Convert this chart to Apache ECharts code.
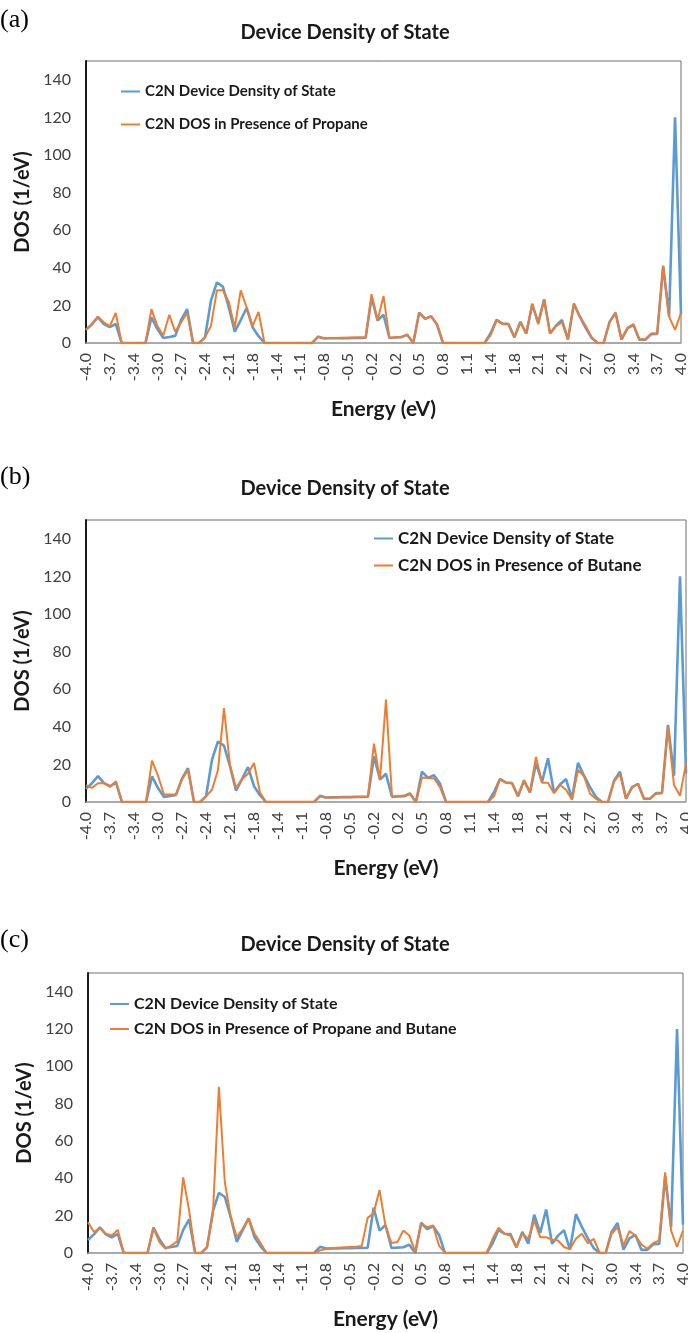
<!DOCTYPE html>
<html>
<head>
<meta charset="utf-8">
<script src="https://cdn.jsdelivr.net/npm/echarts@6/dist/echarts.min.js"></script>
<style>
  html, body { margin: 0; padding: 0; background: #fff; }
  #chart { width: 688px; height: 1333px; }
</style>
</head>
<body>
<div id="chart"></div>
<script>
// energy grid (eV), one point every 0.08 eV
const energy = [
  -4.00, -3.92, -3.84, -3.76, -3.68, -3.60, -3.52, -3.44, -3.36, -3.28,
  -3.20, -3.12, -3.04, -2.96, -2.88, -2.80, -2.72, -2.64, -2.56, -2.48,
  -2.40, -2.32, -2.24, -2.16, -2.08, -2.00, -1.92, -1.84, -1.76, -1.68,
  -1.60, -1.52, -1.44, -1.36, -1.28, -1.20, -1.12, -1.04, -0.96, -0.88,
  -0.80, -0.72, -0.64, -0.56, -0.48, -0.40, -0.32, -0.24, -0.16, -0.08,
  0.00, 0.08, 0.16, 0.24, 0.32, 0.40, 0.48, 0.56, 0.64, 0.72,
  0.80, 0.88, 0.96, 1.04, 1.12, 1.20, 1.28, 1.36, 1.44, 1.52,
  1.60, 1.68, 1.76, 1.84, 1.92, 2.00, 2.08, 2.16, 2.24, 2.32,
  2.40, 2.48, 2.56, 2.64, 2.72, 2.80, 2.88, 2.96, 3.04, 3.12,
  3.20, 3.28, 3.36, 3.44, 3.52, 3.60, 3.68, 3.76, 3.84, 3.92,
  4.00
];

// C2N device density of state (same curve in all three panels)
const pristine = [
  7, 10, 13.8, 10, 8.4, 10.2, 0, 0, 0, 0,
  0, 13.6, 7.4, 2.7, 3.2, 3.8, 12.4, 18, 0, 0,
  3, 22.5, 32.2, 30, 19, 6, 12.2, 18.6, 8.4, 3.6,
  0, 0, 0, 0, 0, 0, 0, 0, 0, 3.3,
  2.4, 2.5, 2.5, 2.6, 2.6, 2.7, 2.7, 2.8, 24.3, 12,
  15, 2.7, 2.9, 3.1, 4.4, 0, 16.2, 12.8, 14.3, 9.7,
  0, 0, 0, 0, 0, 0, 0, 0, 5.2, 12.3,
  10.3, 10.1, 3, 11.3, 5, 20.5, 10.7, 23.3, 5, 9.3,
  12.2, 1.8, 20.8, 14, 7.9, 2.6, 0, 0, 11.3, 16.1,
  1.8, 7.8, 9.7, 1.7, 1.7, 4.7, 4.8, 41, 14, 120,
  15.2
];

// (a) with propane
const propane = [
  7, 10, 14, 11, 9, 16, 0, 0, 0, 0,
  0, 18, 9, 4, 15, 6, 11, 16, 0, 0,
  3, 9, 28, 28, 22, 8, 28, 19, 9, 16.5,
  0, 0, 0, 0, 0, 0, 0, 0, 0, 3.5,
  2.6, 2.6, 2.7, 2.7, 2.8, 2.8, 2.9, 3, 26, 12,
  25, 2.6, 3, 3.2, 4.4, 0, 16, 13, 14, 10,
  0, 0, 0, 0, 0, 0, 0, 0, 4, 12,
  10, 10, 3, 11, 5, 21, 10, 23, 5, 9,
  11, 2, 21, 14, 9, 3, 0, 0, 11, 16,
  2, 8, 10, 2, 2, 5, 5, 41, 14, 7,
  16
];

// (b) with butane
const butane = [
  9, 7.5, 10, 10, 8, 11, 0, 0, 0, 0,
  0, 22, 14, 4, 4, 4, 12, 17, 0, 0,
  3, 6.5, 17, 50, 19.5, 7.5, 12, 15, 20.8, 5,
  0, 0, 0, 0, 0, 0, 0, 0, 0, 3,
  2.2, 2.3, 2.4, 2.5, 2.5, 2.6, 2.7, 2.8, 31, 11.7,
  54.5, 3, 3, 3.3, 4.7, 0, 13, 12.6, 12.6, 7.9,
  0, 0, 0, 0, 0, 0, 0, 0, 3, 12,
  10.3, 10, 3.3, 11.7, 5.2, 24, 10.3, 10.3, 4.7, 9,
  6.5, 1.2, 17, 13.8, 4.4, 1.7, 0, 0, 10.8, 14.8,
  1.7, 7.9, 9.6, 1.7, 1.7, 4.4, 4.7, 40, 9, 3.3,
  20.4
];

// (c) with propane and butane
const propaneButane = [
  16.5, 11.2, 13.3, 10.3, 9.4, 12.4, 0, 0, 0, 0,
  0, 13.3, 5.9, 2.3, 4, 6.2, 40.5, 22.7, 0, 0,
  3.2, 21, 89, 37.8, 19.2, 8.5, 13, 18.6, 10.3, 5.3,
  0, 0, 0, 0, 0, 0, 0, 0, 0, 1.4,
  2.1, 2.6, 2.8, 3, 3.2, 3.4, 3.7, 18.8, 21.3, 33.7,
  14.7, 5.3, 5.9, 12, 9.4, 0.5, 15.6, 13.8, 14.7, 4,
  0, 0, 0, 0, 0, 0, 0, 0, 7.6, 13.5,
  10.3, 9.4, 3.2, 10.3, 7.6, 17.4, 8.5, 8.5, 7.1, 6.7,
  3.2, 2, 7.6, 10.3, 5.3, 7.6, 0, 0, 10.3, 13.8,
  4, 11.7, 9.4, 4.6, 2.3, 5.3, 6.7, 43.2, 12, 3.2,
  12
];

const baseName = "C2N Device Density of State";
const gasNames = [
  "C2N DOS in Presence of Propane",
  "C2N DOS in Presence of Butane",
  "C2N DOS in Presence of Propane and Butane"
];
const gasValues = [propane, butane, propaneButane];
const tags = ["(a)", "(b)", "(c)"];

// layout of each panel
const layout = [
  { grid: { left: 86, right: 7, top: 61, height: 282 }, legend: { left: 116, top: 79, itemGap: 18, size: 15 }, tagY: 20, titleY: 33 },
  { grid: { left: 86, right: 2, top: 520, height: 282 }, legend: { left: 369, top: 525, itemGap: 10, size: 17 }, tagY: 477, titleY: 489 },
  { grid: { left: 88, right: 5, top: 973, height: 280 }, legend: { left: 105, top: 991, itemGap: 9, size: 16 }, tagY: 940, titleY: 945 }
];

const blue = "#5b9bd5";
const orange = "#ed7d31";
const font = "Lato, 'Open Sans', sans-serif";

const option = {
  animation: false,
  backgroundColor: "#fff",
  grid: layout.map((l) => ({
    ...l.grid,
    show: true,
    borderColor: "#6f6f6f",
    borderWidth: 1,
    outerBoundsMode: "none",
  })),
  legend: layout.map((l, k) => ({
    orient: "vertical",
    left: l.legend.left,
    top: l.legend.top,
    itemGap: l.legend.itemGap,
    icon: "rect",
    itemWidth: 19,
    itemHeight: 2,
    data: [baseName, gasNames[k]],
    textStyle: { fontFamily: font, fontWeight: "bold", fontSize: l.legend.size, color: "#1a1a1a" },
  })),
  xAxis: layout.map((l, k) => ({
    type: "category",
    gridIndex: k,
    data: energy,
    boundaryGap: false,
    axisTick: { show: false },
    axisLine: { lineStyle: { color: "#a6a6a6", width: 1.5 } },
    axisLabel: {
      interval: 3,
      rotate: 90,
      margin: 10,
      fontFamily: font,
      fontSize: 16,
      color: "#404040",
      formatter: (v) => Number(v).toFixed(1),
    },
    name: "Energy (eV)",
    nameLocation: "middle",
    nameGap: 56,
    nameTextStyle: { fontFamily: font, fontWeight: "bold", fontSize: 21, color: "#1a1a1a" },
  })),
  yAxis: layout.map((l, k) => ({
    type: "value",
    gridIndex: k,
    min: 0,
    max: 150,
    interval: 20,
    splitLine: { show: false },
    axisTick: { show: false },
    axisLine: { show: true, lineStyle: { color: "#1a1a1a", width: 2 } },
    axisLabel: {
      showMaxLabel: false,
      margin: 15,
      fontFamily: font,
      fontSize: 16,
      color: "#404040",
    },
    name: "DOS (1/eV)",
    nameLocation: "middle",
    nameGap: 48,
    nameTextStyle: { fontFamily: font, fontWeight: "bold", fontSize: 20, color: "#1a1a1a" },
  })),
  series: layout.flatMap((l, k) => [
    {
      name: baseName,
      type: "line",
      xAxisIndex: k,
      yAxisIndex: k,
      data: pristine,
      symbol: "none",
      lineStyle: { color: blue, width: 2.6 },
      itemStyle: { color: blue },
      z: 2,
    },
    {
      name: gasNames[k],
      type: "line",
      xAxisIndex: k,
      yAxisIndex: k,
      data: gasValues[k],
      symbol: "none",
      lineStyle: { color: orange, width: 2 },
      itemStyle: { color: orange },
      z: 3,
    },
  ]),
  graphic: layout.flatMap((l, k) => [
    {
      type: "text",
      x: 0,
      y: l.tagY,
      style: {
        text: tags[k],
        font: "26px 'Liberation Serif', serif",
        fill: "#000",
        verticalAlign: "middle",
      },
    },
    {
      type: "text",
      x: 345,
      y: l.titleY,
      style: {
        text: "Device Density of State",
        font: "bold 20px " + font,
        fill: "#1a1a1a",
        align: "center",
        verticalAlign: "middle",
      },
    },
  ]),
};

const myChart = echarts.init(document.getElementById("chart"));
option && myChart.setOption(option);
</script>
</body>
</html>
